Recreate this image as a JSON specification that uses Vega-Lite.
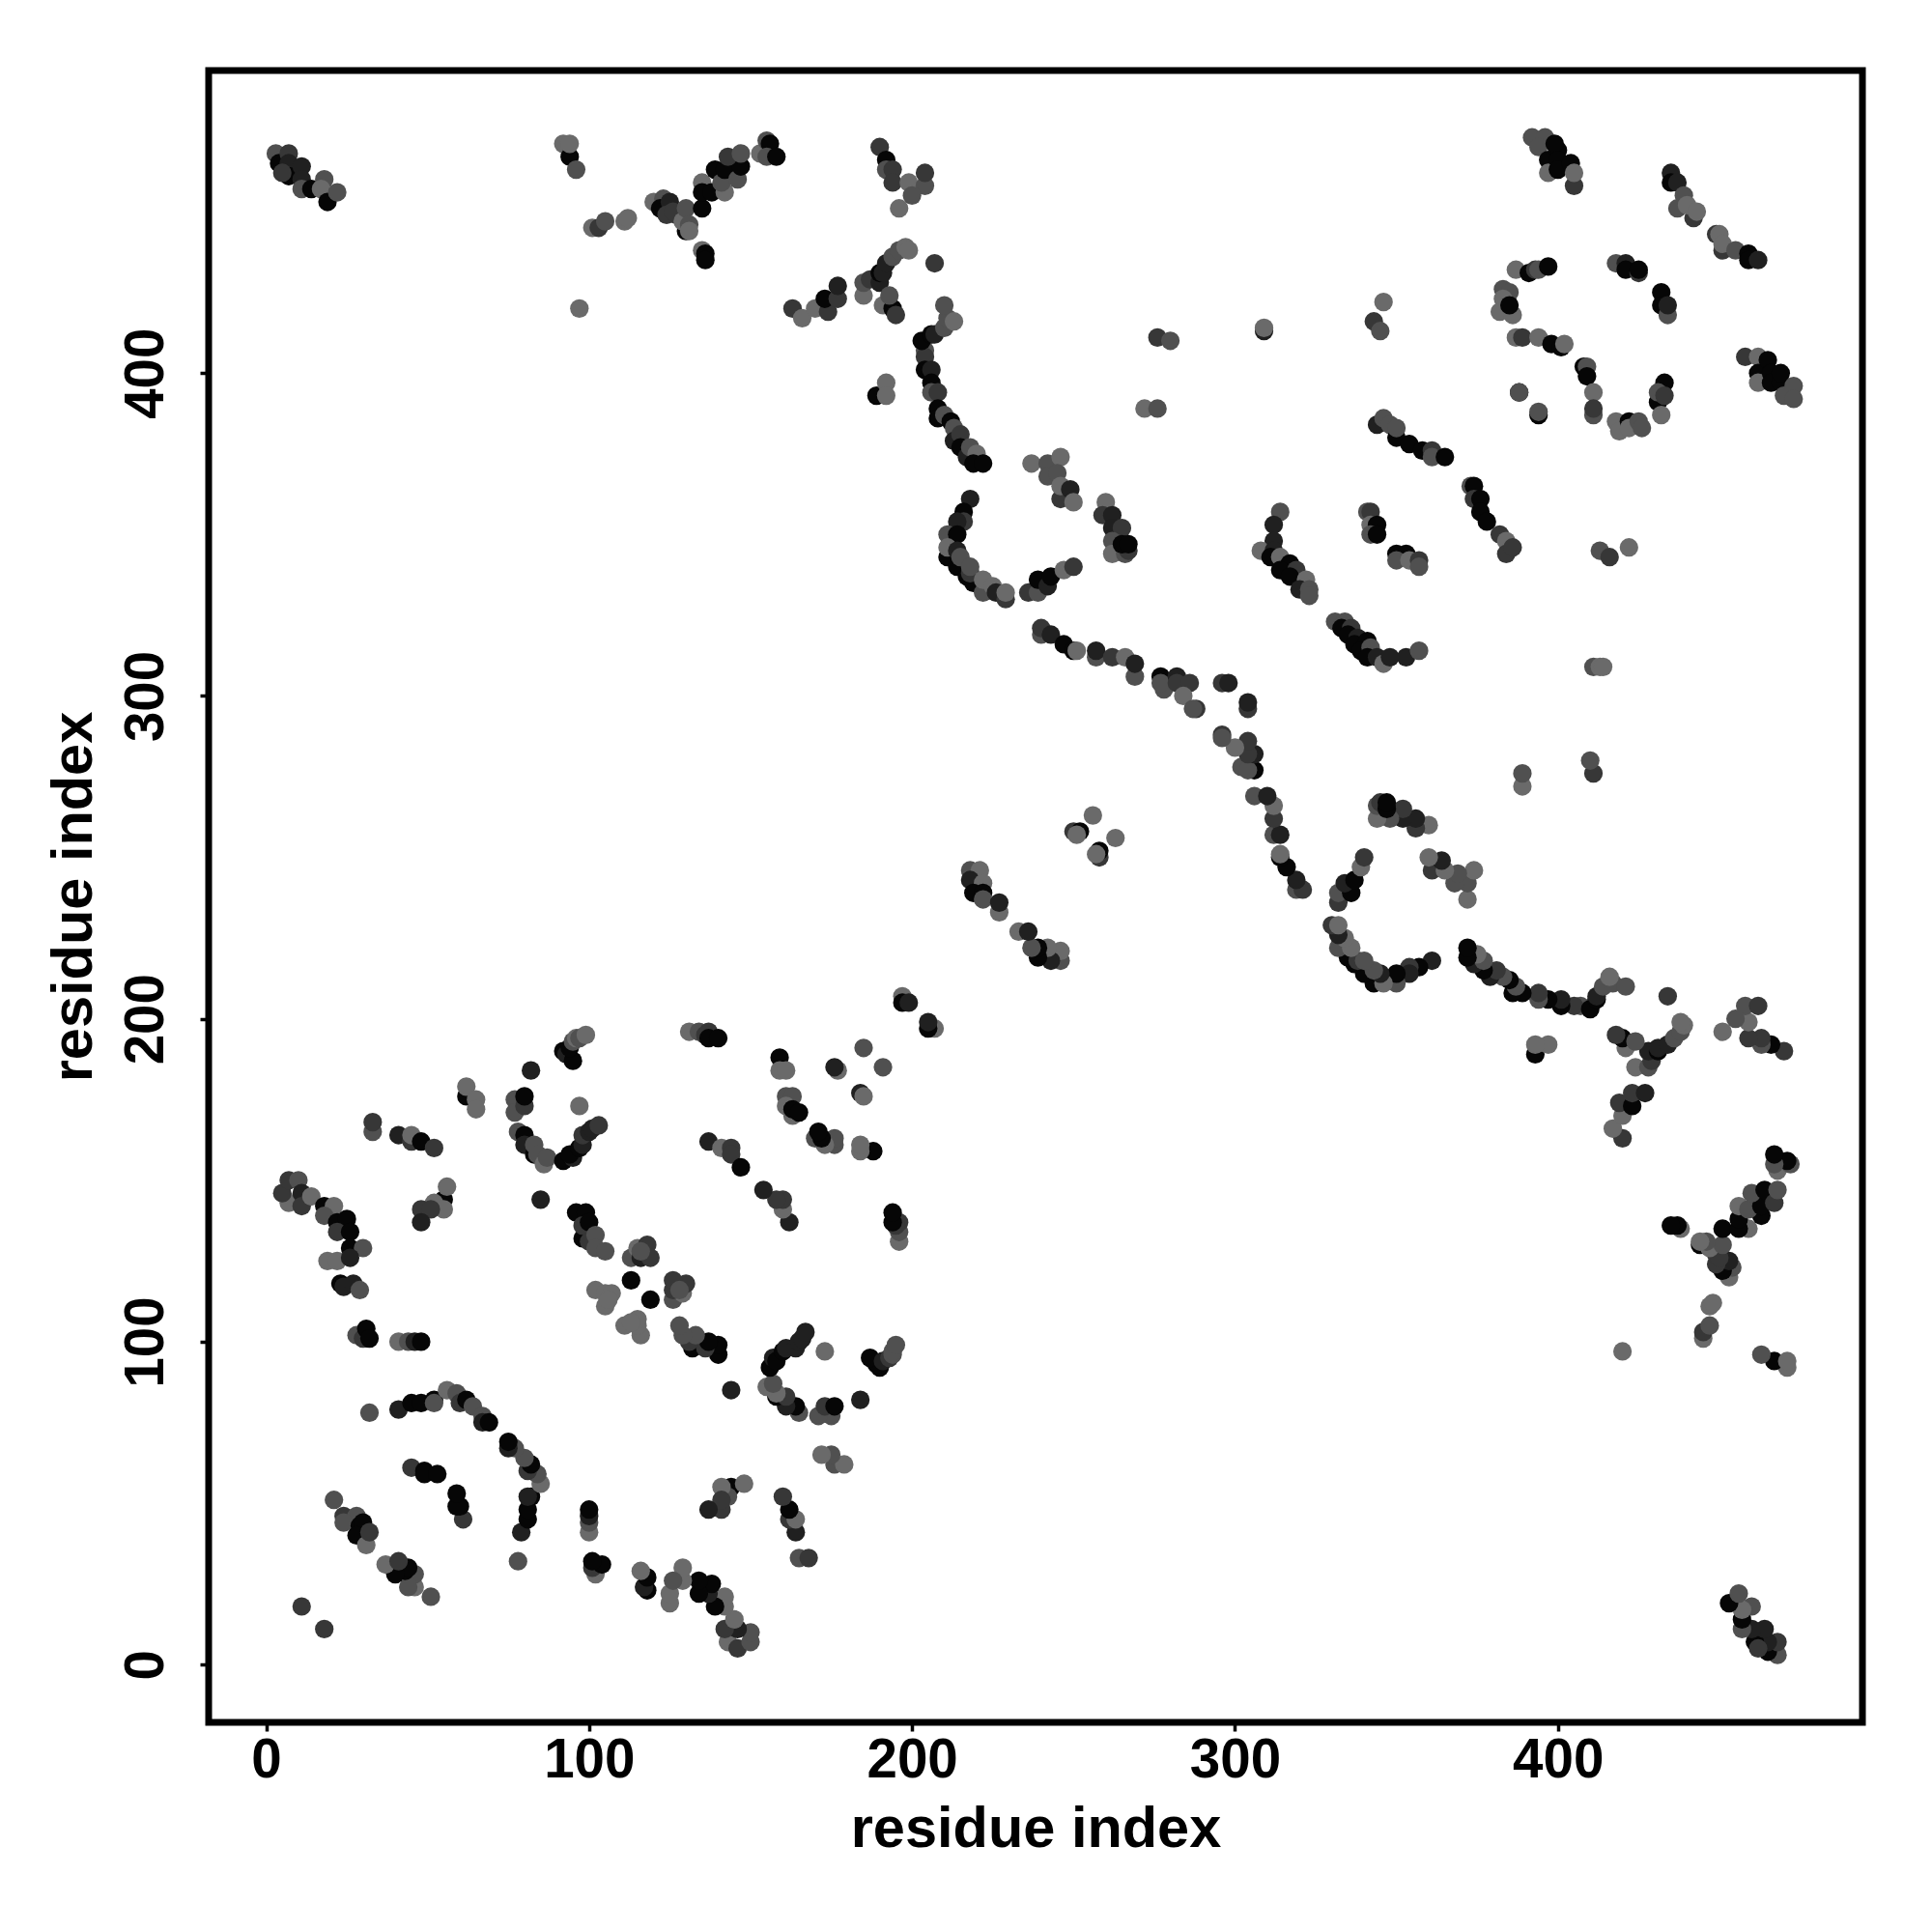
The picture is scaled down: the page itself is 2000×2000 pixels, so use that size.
{"$schema":"https://vega.github.io/schema/vega-lite/v6.json","autosize":"none","padding":{"left":216,"top":73,"right":72,"bottom":217},"width":1712,"height":1710,"background":"white","view":{"stroke":"black","strokeWidth":7,"fill":"white"},"data":{"values":[
{"i":3,"j":468,"v":3},{"i":468,"j":3,"v":3},{"i":4,"j":465,"v":0},{"i":465,"j":4,"v":0},{"i":7,"j":468,"v":2},{"i":468,"j":7,"v":2},{"i":7,"j":465,"v":1},{"i":465,"j":7,"v":1},{"i":7,"j":461,"v":0},{"i":461,"j":7,"v":0},{"i":5,"j":462,"v":2},{"i":462,"j":5,"v":2},{"i":11,"j":464,"v":1},{"i":464,"j":11,"v":1},{"i":11,"j":460,"v":1},{"i":460,"j":11,"v":1},{"i":11,"j":457,"v":3},{"i":457,"j":11,"v":3},{"i":14,"j":457,"v":0},{"i":457,"j":14,"v":0},{"i":18,"j":460,"v":3},{"i":460,"j":18,"v":3},{"i":17,"j":457,"v":4},{"i":457,"j":17,"v":4},{"i":19,"j":453,"v":0},{"i":453,"j":19,"v":0},{"i":22,"j":456,"v":3},{"i":456,"j":22,"v":3},
{"i":92,"j":471,"v":4},{"i":471,"j":92,"v":4},{"i":94,"j":467,"v":0},{"i":467,"j":94,"v":0},{"i":94,"j":471,"v":4},{"i":471,"j":94,"v":4},{"i":96,"j":463,"v":3},{"i":463,"j":96,"v":3},{"i":97,"j":420,"v":4},{"i":420,"j":97,"v":4},
{"i":101,"j":445,"v":4},{"i":445,"j":101,"v":4},{"i":103,"j":445,"v":2},{"i":445,"j":103,"v":2},{"i":105,"j":447,"v":3},{"i":447,"j":105,"v":3},{"i":111,"j":447,"v":4},{"i":447,"j":111,"v":4},{"i":112,"j":448,"v":4},{"i":448,"j":112,"v":4},
{"i":120,"j":453,"v":4},{"i":453,"j":120,"v":4},{"i":123,"j":454,"v":3},{"i":454,"j":123,"v":3},{"i":122,"j":451,"v":0},{"i":451,"j":122,"v":0},{"i":125,"j":453,"v":1},{"i":453,"j":125,"v":1},{"i":124,"j":449,"v":2},{"i":449,"j":124,"v":2},{"i":127,"j":449,"v":2},{"i":449,"j":127,"v":2},{"i":126,"j":450,"v":2},{"i":450,"j":126,"v":2},{"i":130,"j":444,"v":0},{"i":444,"j":130,"v":0},{"i":129,"j":447,"v":4},{"i":447,"j":129,"v":4},{"i":130,"j":451,"v":3},{"i":451,"j":130,"v":3},{"i":131,"j":446,"v":3},{"i":446,"j":131,"v":3},{"i":131,"j":444,"v":4},{"i":444,"j":131,"v":4},
{"i":135,"j":451,"v":0},{"i":451,"j":135,"v":0},{"i":135,"j":438,"v":4},{"i":438,"j":135,"v":4},{"i":136,"j":437,"v":0},{"i":437,"j":136,"v":0},{"i":136,"j":435,"v":0},{"i":435,"j":136,"v":0},
{"i":135,"j":459,"v":4},{"i":459,"j":135,"v":4},{"i":135,"j":456,"v":0},{"i":456,"j":135,"v":0},{"i":138,"j":456,"v":0},{"i":456,"j":138,"v":0},{"i":139,"j":463,"v":0},{"i":463,"j":139,"v":0},{"i":142,"j":456,"v":4},{"i":456,"j":142,"v":4},{"i":141,"j":459,"v":3},{"i":459,"j":141,"v":3},{"i":142,"j":463,"v":0},{"i":463,"j":142,"v":0},{"i":146,"j":460,"v":3},{"i":460,"j":146,"v":3},{"i":147,"j":464,"v":0},{"i":464,"j":147,"v":0},{"i":143,"j":467,"v":2},{"i":467,"j":143,"v":2},{"i":147,"j":468,"v":3},{"i":468,"j":147,"v":3},{"i":153,"j":468,"v":4},{"i":468,"j":153,"v":4},{"i":155,"j":472,"v":3},{"i":472,"j":155,"v":3},{"i":156,"j":471,"v":0},{"i":471,"j":156,"v":0},{"i":155,"j":467,"v":3},{"i":467,"j":155,"v":3},{"i":158,"j":467,"v":0},{"i":467,"j":158,"v":0},
{"i":190,"j":470,"v":2},{"i":470,"j":190,"v":2},{"i":192,"j":466,"v":0},{"i":466,"j":192,"v":0},{"i":192,"j":463,"v":3},{"i":463,"j":192,"v":3},{"i":194,"j":463,"v":2},{"i":463,"j":194,"v":2},{"i":194,"j":459,"v":2},{"i":459,"j":194,"v":2},{"i":199,"j":459,"v":4},{"i":459,"j":199,"v":4},{"i":204,"j":458,"v":3},{"i":458,"j":204,"v":3},{"i":204,"j":462,"v":2},{"i":462,"j":204,"v":2},{"i":200,"j":455,"v":3},{"i":455,"j":200,"v":3},{"i":196,"j":451,"v":4},{"i":451,"j":196,"v":4},
{"i":185,"j":424,"v":4},{"i":424,"j":185,"v":4},{"i":185,"j":428,"v":3},{"i":428,"j":185,"v":3},{"i":187,"j":429,"v":2},{"i":429,"j":187,"v":2},{"i":190,"j":428,"v":1},{"i":428,"j":190,"v":1},{"i":190,"j":431,"v":0},{"i":431,"j":190,"v":0},{"i":191,"j":431,"v":1},{"i":431,"j":191,"v":1},{"i":192,"j":434,"v":1},{"i":434,"j":192,"v":1},{"i":191,"j":421,"v":4},{"i":421,"j":191,"v":4},{"i":194,"j":420,"v":0},{"i":420,"j":194,"v":0},{"i":195,"j":418,"v":2},{"i":418,"j":195,"v":2},{"i":193,"j":424,"v":3},{"i":424,"j":193,"v":3},{"i":194,"j":436,"v":3},{"i":436,"j":194,"v":3},{"i":196,"j":438,"v":3},{"i":438,"j":196,"v":3},{"i":198,"j":439,"v":4},{"i":439,"j":198,"v":4},{"i":199,"j":438,"v":4},{"i":438,"j":199,"v":4},{"i":207,"j":434,"v":2},{"i":434,"j":207,"v":2},
{"i":163,"j":420,"v":2},{"i":420,"j":163,"v":2},{"i":166,"j":417,"v":4},{"i":417,"j":166,"v":4},{"i":170,"j":420,"v":4},{"i":420,"j":170,"v":4},{"i":174,"j":419,"v":2},{"i":419,"j":174,"v":2},{"i":173,"j":423,"v":0},{"i":423,"j":173,"v":0},{"i":177,"j":423,"v":2},{"i":423,"j":177,"v":2},{"i":177,"j":427,"v":1},{"i":427,"j":177,"v":1},
{"i":204,"j":407,"v":3},{"i":407,"j":204,"v":3},{"i":204,"j":405,"v":2},{"i":405,"j":204,"v":2},{"i":203,"j":410,"v":0},{"i":410,"j":203,"v":0},{"i":206,"j":412,"v":0},{"i":412,"j":206,"v":0},{"i":207,"j":412,"v":1},{"i":412,"j":207,"v":1},{"i":210,"j":414,"v":3},{"i":414,"j":210,"v":3},{"i":211,"j":417,"v":3},{"i":417,"j":211,"v":3},{"i":210,"j":421,"v":3},{"i":421,"j":210,"v":3},{"i":213,"j":416,"v":4},{"i":416,"j":213,"v":4},
{"i":204,"j":401,"v":0},{"i":401,"j":204,"v":0},{"i":206,"j":401,"v":1},{"i":401,"j":206,"v":1},{"i":206,"j":397,"v":0},{"i":397,"j":206,"v":0},{"i":206,"j":394,"v":3},{"i":394,"j":206,"v":3},{"i":208,"j":394,"v":2},{"i":394,"j":208,"v":2},{"i":208,"j":389,"v":0},{"i":389,"j":208,"v":0},{"i":208,"j":386,"v":0},{"i":386,"j":208,"v":0},{"i":210,"j":387,"v":3},{"i":387,"j":210,"v":3},{"i":212,"j":385,"v":0},{"i":385,"j":212,"v":0},{"i":213,"j":383,"v":3},{"i":383,"j":213,"v":3},{"i":213,"j":379,"v":1},{"i":379,"j":213,"v":1},{"i":215,"j":381,"v":2},{"i":381,"j":215,"v":2},{"i":215,"j":377,"v":0},{"i":377,"j":215,"v":0},{"i":217,"j":374,"v":1},{"i":374,"j":217,"v":1},{"i":218,"j":377,"v":3},{"i":377,"j":218,"v":3},{"i":220,"j":375,"v":4},{"i":375,"j":220,"v":4},{"i":219,"j":372,"v":0},{"i":372,"j":219,"v":0},{"i":222,"j":372,"v":0},{"i":372,"j":222,"v":0},
{"i":189,"j":393,"v":0},{"i":393,"j":189,"v":0},{"i":192,"j":397,"v":4},{"i":397,"j":192,"v":4},{"i":192,"j":393,"v":4},{"i":393,"j":192,"v":4},
{"i":276,"j":411,"v":2},{"i":411,"j":276,"v":2},{"i":280,"j":410,"v":3},{"i":410,"j":280,"v":3},{"i":272,"j":389,"v":4},{"i":389,"j":272,"v":4},{"i":276,"j":389,"v":3},{"i":389,"j":276,"v":3},{"i":309,"j":413,"v":1},{"i":309,"j":414,"v":4},
{"i":237,"j":372,"v":4},{"i":372,"j":237,"v":4},{"i":242,"j":372,"v":3},{"i":372,"j":242,"v":3},{"i":246,"j":374,"v":4},{"i":374,"j":246,"v":4},{"i":242,"j":368,"v":3},{"i":368,"j":242,"v":3},{"i":245,"j":369,"v":3},{"i":369,"j":245,"v":3},{"i":246,"j":361,"v":2},{"i":361,"j":246,"v":2},{"i":246,"j":365,"v":4},{"i":365,"j":246,"v":4},{"i":249,"j":364,"v":1},{"i":364,"j":249,"v":1},{"i":250,"j":360,"v":4},{"i":360,"j":250,"v":4},
{"i":260,"j":360,"v":4},{"i":360,"j":260,"v":4},{"i":259,"j":356,"v":2},{"i":356,"j":259,"v":2},{"i":262,"j":356,"v":1},{"i":356,"j":262,"v":1},{"i":262,"j":352,"v":1},{"i":352,"j":262,"v":1},{"i":265,"j":352,"v":2},{"i":352,"j":265,"v":2},{"i":262,"j":348,"v":3},{"i":348,"j":262,"v":3},{"i":262,"j":344,"v":4},{"i":344,"j":262,"v":4},{"i":266,"j":344,"v":3},{"i":344,"j":266,"v":3},{"i":267,"j":345,"v":2},{"i":345,"j":267,"v":2},{"i":265,"j":347,"v":0},{"i":347,"j":265,"v":0},{"i":267,"j":347,"v":0},{"i":347,"j":267,"v":0},
{"i":218,"j":361,"v":1},{"i":361,"j":218,"v":1},{"i":216,"j":357,"v":0},{"i":357,"j":216,"v":0},{"i":216,"j":354,"v":2},{"i":354,"j":216,"v":2},{"i":214,"j":354,"v":1},{"i":354,"j":214,"v":1},{"i":211,"j":350,"v":3},{"i":350,"j":211,"v":3},{"i":214,"j":350,"v":0},{"i":350,"j":214,"v":0},{"i":211,"j":343,"v":0},{"i":343,"j":211,"v":0},{"i":211,"j":346,"v":4},{"i":346,"j":211,"v":4},{"i":214,"j":340,"v":0},{"i":340,"j":214,"v":0},{"i":214,"j":345,"v":1},{"i":345,"j":214,"v":1},{"i":215,"j":343,"v":3},{"i":343,"j":215,"v":3},{"i":217,"j":337,"v":0},{"i":337,"j":217,"v":0},{"i":219,"j":335,"v":0},{"i":335,"j":219,"v":0},{"i":218,"j":338,"v":2},{"i":338,"j":218,"v":2},{"i":218,"j":340,"v":3},{"i":340,"j":218,"v":3},{"i":222,"j":332,"v":3},{"i":332,"j":222,"v":3},{"i":222,"j":336,"v":4},{"i":336,"j":222,"v":4},{"i":225,"j":334,"v":4},{"i":334,"j":225,"v":4},{"i":226,"j":332,"v":1},{"i":332,"j":226,"v":1},{"i":229,"j":330,"v":2},{"i":330,"j":229,"v":2},{"i":229,"j":332,"v":4},{"i":332,"j":229,"v":4},
{"i":236,"j":332,"v":2},{"i":332,"j":236,"v":2},{"i":239,"j":332,"v":3},{"i":332,"j":239,"v":3},{"i":239,"j":336,"v":0},{"i":336,"j":239,"v":0},{"i":242,"j":334,"v":1},{"i":334,"j":242,"v":1},{"i":243,"j":337,"v":0},{"i":337,"j":243,"v":0},{"i":247,"j":339,"v":4},{"i":339,"j":247,"v":4},{"i":250,"j":340,"v":2},{"i":340,"j":250,"v":2},
{"i":240,"j":319,"v":3},{"i":319,"j":240,"v":3},{"i":240,"j":321,"v":2},{"i":321,"j":240,"v":2},{"i":243,"j":319,"v":1},{"i":319,"j":243,"v":1},{"i":247,"j":316,"v":0},{"i":316,"j":247,"v":0},{"i":250,"j":314,"v":0},{"i":314,"j":250,"v":0},{"i":251,"j":314,"v":4},{"i":314,"j":251,"v":4},{"i":257,"j":312,"v":3},{"i":312,"j":257,"v":3},{"i":257,"j":314,"v":1},{"i":314,"j":257,"v":1},{"i":262,"j":312,"v":2},{"i":312,"j":262,"v":2},{"i":266,"j":312,"v":4},{"i":312,"j":266,"v":4},{"i":269,"j":306,"v":3},{"i":306,"j":269,"v":3},{"i":269,"j":310,"v":1},{"i":310,"j":269,"v":1},{"i":277,"j":306,"v":0},{"i":306,"j":277,"v":0},{"i":278,"j":302,"v":3},{"i":302,"j":278,"v":3},{"i":277,"j":304,"v":3},{"i":304,"j":277,"v":3},{"i":282,"j":306,"v":1},{"i":306,"j":282,"v":1},{"i":282,"j":304,"v":2},{"i":304,"j":282,"v":2},{"i":286,"j":304,"v":2},{"i":304,"j":286,"v":2},{"i":284,"j":300,"v":4},{"i":300,"j":284,"v":4},{"i":288,"j":296,"v":2},{"i":296,"j":288,"v":2},{"i":287,"j":296,"v":3},{"i":296,"j":287,"v":3},{"i":296,"j":304,"v":2},{"i":304,"j":296,"v":2},{"i":298,"j":304,"v":1},{"i":304,"j":298,"v":1},
{"i":197,"j":207,"v":4},{"i":207,"j":197,"v":4},{"i":197,"j":205,"v":0},{"i":205,"j":197,"v":0},{"i":199,"j":205,"v":1},{"i":205,"j":199,"v":1},
{"i":218,"j":246,"v":3},{"i":246,"j":218,"v":3},{"i":221,"j":246,"v":4},{"i":246,"j":221,"v":4},{"i":218,"j":243,"v":1},{"i":243,"j":218,"v":1},{"i":222,"j":242,"v":4},{"i":242,"j":222,"v":4},{"i":219,"j":239,"v":0},{"i":239,"j":219,"v":0},{"i":222,"j":239,"v":0},{"i":239,"j":222,"v":0},{"i":222,"j":237,"v":3},{"i":237,"j":222,"v":3},{"i":227,"j":233,"v":4},{"i":233,"j":227,"v":4},{"i":227,"j":236,"v":1},{"i":236,"j":227,"v":1},
{"i":250,"j":258,"v":2},{"i":258,"j":250,"v":2},{"i":252,"j":258,"v":0},{"i":258,"j":252,"v":0},{"i":256,"j":263,"v":4},{"i":263,"j":256,"v":4},{"i":251,"j":257,"v":4},{"i":257,"j":251,"v":4},
{"i":159,"j":188,"v":0},{"i":188,"j":159,"v":0},{"i":159,"j":184,"v":4},{"i":184,"j":159,"v":4},{"i":161,"j":184,"v":4},{"i":184,"j":161,"v":4},{"i":161,"j":176,"v":3},{"i":176,"j":161,"v":3},{"i":163,"j":176,"v":3},{"i":176,"j":163,"v":3},{"i":161,"j":173,"v":4},{"i":173,"j":161,"v":4},{"i":163,"j":170,"v":4},{"i":170,"j":163,"v":3},{"i":163,"j":172,"v":0},{"i":172,"j":163,"v":0},{"i":165,"j":171,"v":0},{"i":171,"j":165,"v":0},{"i":177,"j":184,"v":4},{"i":184,"j":177,"v":1},{"i":176,"j":185,"v":1},{"i":185,"j":176,"v":4},{"i":185,"j":191,"v":3},{"i":191,"j":185,"v":3},
{"i":82,"j":184,"v":1},{"i":184,"j":82,"v":1},{"i":92,"j":190,"v":0},{"i":190,"j":92,"v":0},{"i":93,"j":189,"v":1},{"i":189,"j":93,"v":0},{"i":95,"j":187,"v":0},{"i":187,"j":95,"v":0},{"i":94,"j":191,"v":0},{"i":191,"j":94,"v":1},{"i":95,"j":193,"v":3},{"i":193,"j":95,"v":2},{"i":96,"j":194,"v":4},{"i":194,"j":96,"v":3},{"i":97,"j":194,"v":3},{"i":194,"j":97,"v":3},{"i":99,"j":195,"v":4},{"i":195,"j":99,"v":3},{"i":97,"j":173,"v":4},{"i":173,"j":97,"v":4},
{"i":62,"j":176,"v":0},{"i":176,"j":62,"v":3},{"i":62,"j":179,"v":4},{"i":179,"j":62,"v":4},{"i":65,"j":175,"v":4},{"i":175,"j":65,"v":3},{"i":65,"j":172,"v":4},{"i":172,"j":65,"v":4},
{"i":33,"j":165,"v":3},{"i":165,"j":33,"v":3},{"i":33,"j":168,"v":2},{"i":168,"j":33,"v":2},{"i":41,"j":164,"v":1},{"i":164,"j":41,"v":1},{"i":45,"j":162,"v":2},{"i":162,"j":45,"v":2},{"i":45,"j":164,"v":4},{"i":164,"j":45,"v":4},{"i":48,"j":162,"v":0},{"i":162,"j":48,"v":0},{"i":52,"j":160,"v":2},{"i":160,"j":52,"v":2},
{"i":55,"j":144,"v":0},{"i":144,"j":55,"v":0},{"i":56,"j":148,"v":4},{"i":148,"j":56,"v":4},{"i":52,"j":143,"v":4},{"i":143,"j":52,"v":3},{"i":55,"j":141,"v":4},{"i":141,"j":55,"v":4},{"i":48,"j":141,"v":2},{"i":141,"j":48,"v":2},{"i":51,"j":141,"v":2},{"i":141,"j":51,"v":2},{"i":48,"j":137,"v":1},{"i":137,"j":48,"v":1},
{"i":77,"j":175,"v":3},{"i":175,"j":77,"v":3},{"i":77,"j":171,"v":3},{"i":171,"j":77,"v":3},{"i":80,"j":173,"v":2},{"i":173,"j":80,"v":2},{"i":80,"j":176,"v":0},{"i":176,"j":80,"v":0},{"i":78,"j":165,"v":3},{"i":165,"j":78,"v":3},{"i":80,"j":164,"v":0},{"i":164,"j":80,"v":0},{"i":80,"j":161,"v":1},{"i":161,"j":80,"v":1},{"i":83,"j":158,"v":0},{"i":158,"j":83,"v":0},{"i":83,"j":161,"v":3},{"i":161,"j":83,"v":2},{"i":84,"j":158,"v":3},{"i":158,"j":84,"v":4},{"i":86,"j":155,"v":4},{"i":155,"j":86,"v":4},{"i":87,"j":157,"v":3},{"i":157,"j":87,"v":3},
{"i":92,"j":156,"v":0},{"i":156,"j":92,"v":0},{"i":95,"j":157,"v":1},{"i":157,"j":95,"v":1},{"i":94,"j":158,"v":0},{"i":158,"j":94,"v":0},{"i":97,"j":160,"v":0},{"i":160,"j":97,"v":0},{"i":98,"j":161,"v":1},{"i":161,"j":98,"v":1},{"i":98,"j":164,"v":2},{"i":164,"j":98,"v":1},{"i":100,"j":165,"v":1},{"i":165,"j":100,"v":1},{"i":101,"j":166,"v":1},{"i":166,"j":101,"v":1},{"i":103,"j":167,"v":2},{"i":167,"j":103,"v":1},{"i":85,"j":144,"v":1},{"i":144,"j":85,"v":1},
{"i":7,"j":143,"v":4},{"i":143,"j":7,"v":4},{"i":5,"j":146,"v":2},{"i":146,"j":5,"v":2},{"i":7,"j":150,"v":2},{"i":150,"j":7,"v":3},{"i":10,"j":150,"v":3},{"i":150,"j":10,"v":3},{"i":11,"j":146,"v":1},{"i":146,"j":11,"v":1},{"i":11,"j":142,"v":2},{"i":142,"j":11,"v":2},{"i":14,"j":145,"v":4},{"i":145,"j":14,"v":4},{"i":18,"j":142,"v":0},{"i":142,"j":18,"v":4},{"i":21,"j":142,"v":4},{"i":142,"j":21,"v":4},{"i":18,"j":139,"v":3},{"i":139,"j":18,"v":0},{"i":22,"j":137,"v":0},{"i":137,"j":22,"v":1},{"i":25,"j":138,"v":0},{"i":138,"j":25,"v":0},{"i":22,"j":134,"v":2},{"i":134,"j":22,"v":0},{"i":26,"j":134,"v":0},{"i":134,"j":26,"v":0},{"i":26,"j":129,"v":0},{"i":129,"j":26,"v":4},{"i":30,"j":129,"v":3},{"i":129,"j":30,"v":4},{"i":19,"j":125,"v":4},{"i":125,"j":19,"v":4},{"i":22,"j":125,"v":4},{"i":125,"j":22,"v":4},{"i":26,"j":126,"v":1},{"i":126,"j":26,"v":3},{"i":23,"j":118,"v":0},{"i":118,"j":23,"v":0},{"i":24,"j":117,"v":1},{"i":117,"j":24,"v":1},{"i":27,"j":118,"v":1},{"i":118,"j":27,"v":0},{"i":29,"j":116,"v":3},{"i":116,"j":29,"v":4},
{"i":28,"j":102,"v":3},{"i":102,"j":28,"v":4},{"i":30,"j":101,"v":2},{"i":101,"j":30,"v":2},{"i":31,"j":104,"v":0},{"i":104,"j":31,"v":0},{"i":32,"j":101,"v":0},{"i":101,"j":32,"v":0},{"i":41,"j":100,"v":4},{"i":100,"j":41,"v":4},{"i":44,"j":100,"v":3},{"i":100,"j":44,"v":3},{"i":46,"j":100,"v":1},{"i":100,"j":46,"v":1},{"i":48,"j":100,"v":0},{"i":100,"j":48,"v":0},
{"i":32,"j":78,"v":3},{"i":78,"j":32,"v":3},{"i":41,"j":79,"v":1},{"i":79,"j":41,"v":1},{"i":45,"j":81,"v":0},{"i":81,"j":45,"v":0},{"i":48,"j":81,"v":0},{"i":81,"j":48,"v":0},{"i":52,"j":82,"v":0},{"i":82,"j":52,"v":0},{"i":52,"j":81,"v":3},{"i":81,"j":52,"v":1},{"i":56,"j":85,"v":4},{"i":85,"j":56,"v":4},{"i":59,"j":84,"v":3},{"i":84,"j":59,"v":3},{"i":60,"j":81,"v":2},{"i":81,"j":60,"v":2},{"i":62,"j":82,"v":0},{"i":82,"j":62,"v":0},{"i":64,"j":80,"v":3},{"i":80,"j":64,"v":3},{"i":67,"j":77,"v":3},{"i":77,"j":67,"v":3},{"i":67,"j":75,"v":1},{"i":75,"j":67,"v":1},{"i":69,"j":75,"v":0},{"i":75,"j":69,"v":0},
{"i":45,"j":61,"v":2},{"i":61,"j":45,"v":2},{"i":49,"j":60,"v":0},{"i":60,"j":49,"v":0},{"i":49,"j":59,"v":0},{"i":59,"j":49,"v":0},{"i":53,"j":59,"v":0},{"i":59,"j":53,"v":0},
{"i":21,"j":51,"v":3},{"i":51,"j":21,"v":3},{"i":24,"j":46,"v":2},{"i":46,"j":24,"v":4},{"i":28,"j":46,"v":3},{"i":46,"j":28,"v":3},{"i":24,"j":44,"v":3},{"i":44,"j":24,"v":3},{"i":29,"j":43,"v":0},{"i":43,"j":29,"v":0},{"i":30,"j":44,"v":0},{"i":44,"j":30,"v":0},{"i":28,"j":40,"v":0},{"i":40,"j":28,"v":0},{"i":31,"j":37,"v":4},{"i":37,"j":31,"v":4},{"i":32,"j":41,"v":2},{"i":41,"j":32,"v":2},
{"i":11,"j":18,"v":2},{"i":18,"j":11,"v":2},
{"i":137,"j":162,"v":1},{"i":162,"j":137,"v":1},{"i":141,"j":160,"v":4},{"i":160,"j":141,"v":4},{"i":144,"j":160,"v":2},{"i":160,"j":144,"v":2},{"i":144,"j":158,"v":2},{"i":158,"j":144,"v":2},{"i":147,"j":154,"v":0},{"i":154,"j":147,"v":1},
{"i":131,"j":196,"v":4},{"i":196,"j":131,"v":4},{"i":134,"j":196,"v":3},{"i":196,"j":134,"v":3},{"i":137,"j":196,"v":2},{"i":196,"j":137,"v":2},{"i":136,"j":195,"v":2},{"i":195,"j":136,"v":2},{"i":137,"j":194,"v":0},{"i":194,"j":137,"v":0},{"i":140,"j":194,"v":0},{"i":194,"j":140,"v":0},
{"i":96,"j":140,"v":0},{"i":140,"j":96,"v":0},{"i":98,"j":132,"v":0},{"i":132,"j":98,"v":0},{"i":99,"j":140,"v":0},{"i":140,"j":99,"v":0},{"i":98,"j":136,"v":2},{"i":136,"j":98,"v":2},{"i":100,"j":137,"v":0},{"i":137,"j":100,"v":0},{"i":100,"j":131,"v":2},{"i":131,"j":100,"v":2},{"i":102,"j":133,"v":3},{"i":133,"j":102,"v":3},{"i":102,"j":129,"v":3},{"i":129,"j":102,"v":3},{"i":105,"j":128,"v":3},{"i":128,"j":105,"v":3},
{"i":113,"j":126,"v":3},{"i":126,"j":113,"v":3},{"i":115,"j":129,"v":4},{"i":129,"j":115,"v":4},{"i":118,"j":130,"v":2},{"i":130,"j":118,"v":2},{"i":116,"j":126,"v":1},{"i":126,"j":116,"v":2},{"i":119,"j":126,"v":2},{"i":126,"j":119,"v":2},{"i":116,"j":128,"v":3},{"i":128,"j":116,"v":3},{"i":113,"j":119,"v":0},{"i":119,"j":113,"v":0},{"i":102,"j":116,"v":4},{"i":116,"j":102,"v":4},{"i":105,"j":115,"v":4},{"i":115,"j":105,"v":4},{"i":107,"j":115,"v":4},{"i":115,"j":107,"v":4},{"i":105,"j":111,"v":4},{"i":111,"j":105,"v":4},{"i":106,"j":113,"v":4},{"i":113,"j":106,"v":4},
{"i":392,"j":473,"v":3},{"i":396,"j":473,"v":3},{"i":394,"j":470,"v":3},{"i":397,"j":466,"v":0},{"i":397,"j":462,"v":4},{"i":400,"j":469,"v":0},{"i":399,"j":471,"v":0},{"i":400,"j":466,"v":0},{"i":400,"j":463,"v":0},{"i":404,"j":465,"v":0},{"i":405,"j":458,"v":2},{"i":405,"j":462,"v":4},
{"i":435,"j":462,"v":1},{"i":435,"j":459,"v":0},{"i":437,"j":459,"v":1},{"i":439,"j":455,"v":3},{"i":437,"j":451,"v":3},{"i":442,"j":448,"v":2},{"i":440,"j":452,"v":4},{"i":443,"j":450,"v":4},{"i":449,"j":443,"v":2},{"i":450,"j":443,"v":4},{"i":451,"j":438,"v":2},{"i":451,"j":440,"v":4},{"i":455,"j":438,"v":3},{"i":459,"j":437,"v":0},{"i":459,"j":435,"v":0},{"i":462,"j":435,"v":1},
{"i":387,"j":432,"v":4},{"i":391,"j":431,"v":0},{"i":393,"j":432,"v":2},{"i":394,"j":432,"v":3},{"i":397,"j":433,"v":0},{"i":383,"j":426,"v":3},{"i":385,"j":425,"v":3},{"i":383,"j":423,"v":4},{"i":382,"j":419,"v":4},{"i":386,"j":418,"v":4},{"i":385,"j":421,"v":0},
{"i":387,"j":411,"v":4},{"i":389,"j":411,"v":2},{"i":394,"j":411,"v":4},{"i":398,"j":409,"v":0},{"i":401,"j":408,"v":0},{"i":402,"j":409,"v":4},{"i":408,"j":402,"v":0},{"i":409,"j":402,"v":3},{"i":409,"j":399,"v":0},{"i":411,"j":394,"v":4},{"i":411,"j":387,"v":3},{"i":411,"j":389,"v":2},{"i":388,"j":394,"v":0},{"i":388,"j":394,"v":3},{"i":394,"j":387,"v":0},{"i":394,"j":388,"v":3},
{"i":418,"j":434,"v":3},{"i":421,"j":434,"v":1},{"i":421,"j":432,"v":0},{"i":425,"j":431,"v":2},{"i":425,"j":432,"v":0},{"i":432,"j":425,"v":0},{"i":432,"j":421,"v":0},{"i":434,"j":418,"v":3},{"i":434,"j":421,"v":1},{"i":433,"j":397,"v":0},{"i":431,"j":391,"v":0},{"i":431,"j":394,"v":3},{"i":433,"j":393,"v":2},{"i":432,"j":387,"v":4},
{"i":418,"j":385,"v":4},{"i":419,"j":382,"v":4},{"i":422,"j":385,"v":0},{"i":422,"j":383,"v":4},{"i":425,"j":385,"v":3},{"i":426,"j":383,"v":3},
{"i":458,"j":405,"v":2},{"i":462,"j":405,"v":4},{"i":462,"j":400,"v":0},{"i":462,"j":397,"v":4},{"i":465,"j":404,"v":0},{"i":466,"j":400,"v":0},{"i":466,"j":397,"v":0},{"i":469,"j":397,"v":0},{"i":469,"j":400,"v":0},{"i":470,"j":393,"v":3},{"i":473,"j":396,"v":3},{"i":473,"j":392,"v":3},
{"i":343,"j":416,"v":2},{"i":345,"j":413,"v":3},{"i":346,"j":422,"v":4},{"i":344,"j":384,"v":1},{"i":346,"j":386,"v":3},{"i":348,"j":384,"v":3},{"i":350,"j":380,"v":0},{"i":350,"j":383,"v":3},{"i":354,"j":378,"v":0},{"i":358,"j":376,"v":0},{"i":361,"j":376,"v":2},{"i":361,"j":374,"v":3},{"i":365,"j":374,"v":0},
{"i":373,"j":365,"v":3},{"i":374,"j":365,"v":0},{"i":374,"j":361,"v":2},{"i":376,"j":361,"v":0},{"i":376,"j":357,"v":0},{"i":378,"j":354,"v":0},{"i":382,"j":350,"v":2},{"i":384,"j":348,"v":4},{"i":384,"j":344,"v":2},{"i":386,"j":346,"v":2},
{"i":413,"j":345,"v":3},{"i":416,"j":343,"v":2},{"i":422,"j":346,"v":4},{"i":341,"j":357,"v":3},{"i":342,"j":357,"v":2},{"i":342,"j":353,"v":4},{"i":344,"j":353,"v":0},{"i":342,"j":350,"v":3},{"i":344,"j":350,"v":0},{"i":350,"j":344,"v":0},{"i":353,"j":344,"v":0},{"i":350,"j":342,"v":3},{"i":354,"j":342,"v":4},{"i":357,"j":342,"v":2},{"i":357,"j":340,"v":3},
{"i":314,"j":357,"v":3},{"i":312,"j":353,"v":1},{"i":312,"j":348,"v":1},{"i":308,"j":345,"v":4},{"i":312,"j":345,"v":1},{"i":311,"j":343,"v":0},{"i":314,"j":343,"v":4},{"i":317,"j":341,"v":0},{"i":314,"j":339,"v":0},{"i":319,"j":339,"v":2},{"i":317,"j":337,"v":0},{"i":322,"j":336,"v":4},{"i":320,"j":333,"v":1},{"i":323,"j":333,"v":3},{"i":323,"j":331,"v":3},
{"i":331,"j":323,"v":3},{"i":334,"j":323,"v":3},{"i":333,"j":321,"v":0},{"i":336,"j":321,"v":2},{"i":335,"j":319,"v":0},{"i":338,"j":318,"v":1},{"i":337,"j":316,"v":0},{"i":341,"j":317,"v":0},{"i":339,"j":314,"v":0},{"i":342,"j":315,"v":3},{"i":341,"j":312,"v":0},{"i":344,"j":312,"v":1},{"i":346,"j":310,"v":4},{"i":348,"j":312,"v":1},{"i":353,"j":312,"v":1},{"i":357,"j":314,"v":3},
{"i":411,"j":309,"v":3},{"i":413,"j":309,"v":4},{"i":414,"j":309,"v":4}
]},"mark":{"type":"point","filled":true,"size":370,"opacity":1,"shape":"circle","clip":true},"encoding":{"x":{"field":"i","type":"quantitative","scale":{"domain":[-17.8,494.3],"nice":false,"zero":false},"axis":{"title":"residue index","values":[0,100,200,300,400],"grid":false,"domain":false,"ticks":true,"tickSize":9,"tickWidth":3.5,"tickColor":"black","labelFont":"Liberation Sans","labelFontWeight":"bold","labelFontSize":56.5,"labelColor":"black","labelPadding":2,"titleFont":"Liberation Sans","titleFontWeight":"bold","titleFontSize":59.5,"titleColor":"black","titlePadding":14}},"y":{"field":"j","type":"quantitative","scale":{"domain":[-17.9,493.7],"nice":false,"zero":false},"axis":{"title":"residue index","values":[0,100,200,300,400],"grid":false,"domain":false,"ticks":true,"tickSize":9,"tickWidth":3.5,"tickColor":"black","labelFont":"Liberation Sans","labelFontWeight":"bold","labelFontSize":56.5,"labelColor":"black","labelAngle":-90,"labelAlign":"center","labelBaseline":"bottom","labelPadding":27,"titleFont":"Liberation Sans","titleFontWeight":"bold","titleFontSize":59.5,"titleColor":"black","titlePadding":17}},"color":{"field":"v","type":"quantitative","scale":{"domain":[0,4],"range":["#060606","#6a6a6a"]},"legend":null}}}
